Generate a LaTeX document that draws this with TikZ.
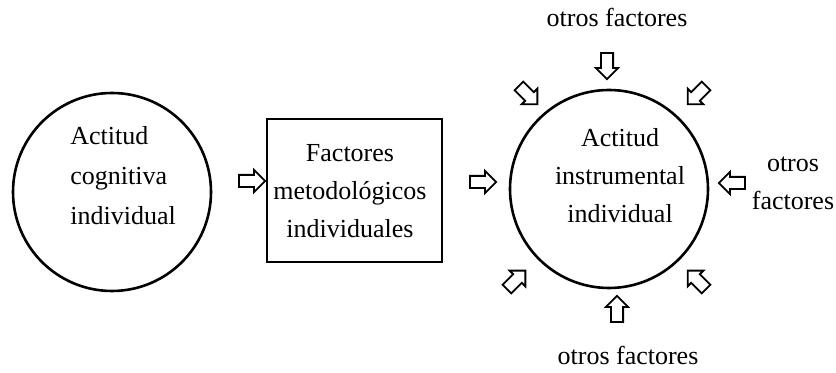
\documentclass[tikz,border=0pt]{standalone}
\usepackage{fontspec}
\setmainfont{Liberation Serif}
\usetikzlibrary{shapes.arrows}

\begin{document}
\begin{tikzpicture}[x=0.5pt,y=-0.5pt,
	txt/.style={font=\fontsize{13}{19}\selectfont, inner sep=0pt},
	flecha/.style={single arrow, draw, line width=0.9pt, minimum height=13pt, inner sep=2.6pt, single arrow head extend=2.5pt}]
	\useasboundingbox (0,0) rectangle (836,373);
	% actitud cognitiva
	\node[circle, draw, line width=1.3pt, minimum size=99pt] (cogn) at (112,192) {};
	\node[txt, font=\fontsize{13}{20}\selectfont, align=left, anchor=base west] (cogntxt) at (70,225) {Actitud\\cognitiva\\individual};
	\node[flecha] (f1) at (249,181) {};
	% factores metodologicos
	\node[draw, line width=1.4pt, minimum width=87.5pt, minimum height=71.5pt] (metod) at (354.5,190.5) {};
	\node[txt, align=center, anchor=base] (metodtxt) at (350,238) {Factores\\metodológicos\\individuales};
	\node[flecha] (f2) at (480,182) {};
	% actitud instrumental
	\node[circle, draw, line width=1.3pt, minimum size=99pt] (instr) at (609,189) {};
	\node[txt, align=center, anchor=base] (instrtxt) at (620,223) {Actitud\\instrumental\\individual};
	% otros factores
	\node[txt, anchor=base] (otrosn) at (617,27) {otros factores};
	\node[txt, anchor=base] (otross) at (628,365) {otros factores};
	\node[txt, align=center, anchor=base] (otrose) at (793,210) {otros\\factores};
	\node[flecha, rotate=-90] (fn) at (607,63) {};
	\node[flecha, rotate=-135] (fne) at (699,93) {};
	\node[flecha, rotate=-45] (fno) at (526,93) {};
	\node[flecha, rotate=180] (fe) at (735,183) {};
	\node[flecha, rotate=45] (fso) at (514,282) {};
	\node[flecha, rotate=135] (fse) at (699,282) {};
	\node[flecha, rotate=90] (fs) at (617,312) {};
\end{tikzpicture}
\end{document}
